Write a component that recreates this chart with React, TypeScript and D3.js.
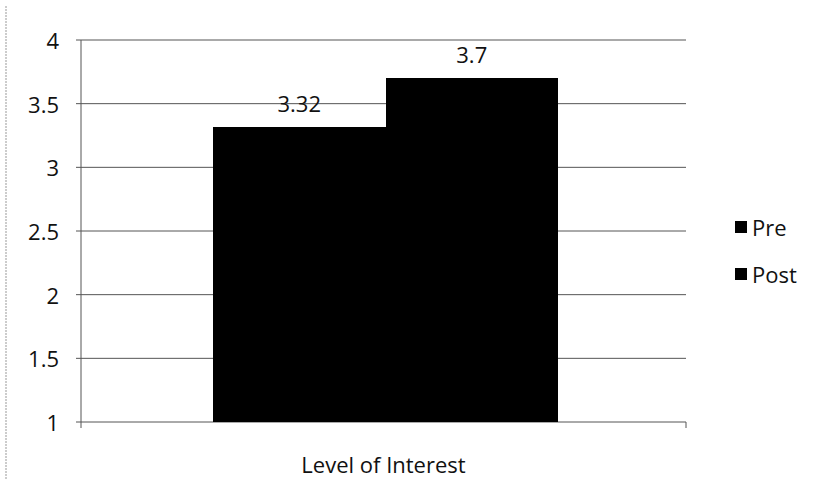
import React from "react";
import * as d3 from "d3";

const categories = ["Level of Interest"];
const seriesNames = ["Pre", "Post"];
const preValues = [3.32];
const postValues = [3.7];
const yTicks = [1, 1.5, 2, 2.5, 3, 3.5, 4];
const valueLabels = ["3.32", "3.7"];

export default function App() {
  const W = 814, H = 486;
  const left = 81, right = 686, top = 40, bottom = 422;
  const y = d3.scaleLinear().domain([1, 4]).range([bottom, top]);
  const x0 = d3.scaleBand().domain(categories).range([left, right]).paddingInner(0).paddingOuter(0);
  const x1 = d3.scaleBand().domain(seriesNames)
    .range([132, x0.bandwidth() - 128]).padding(0);
  const font = "'Open Sans', 'DejaVu Sans', sans-serif";
  const rows = categories.map((c, i) => ({ c, vals: [preValues[i], postValues[i]] }));
  return (
    <svg width={W} height={H} style={{ position: "absolute", left: 0, top: 0, background: "#fff" }}>
      <line x1={6} x2={6} y1={6} y2={480} stroke="#999" strokeWidth={1} strokeDasharray="2,1" />
      {yTicks.map((t) => (
        <g key={t}>
          <line x1={left - 5} x2={right} y1={y(t)} y2={y(t)} stroke="#555" strokeWidth={1} />
          <text x={59} y={y(t)} textAnchor="end" dominantBaseline="central" fontFamily={font} fontSize={22} fill="#111">{t}</text>
        </g>
      ))}
      <line x1={left} x2={left} y1={top} y2={bottom} stroke="#555" strokeWidth={1} />
      <line x1={left} x2={left} y1={bottom} y2={bottom + 6} stroke="#555" />
      <line x1={right} x2={right} y1={bottom} y2={bottom + 6} stroke="#555" />
      {rows.map((r) => (
        <g key={r.c} transform={`translate(${x0(r.c)},0)`}>
          {r.vals.map((v, j) => (
            <g key={j}>
              <rect x={x1(seriesNames[j])} y={y(v)} width={x1.bandwidth() + (j === 0 ? 1 : 0)} height={y(1) - y(v)} fill="#000" shapeRendering="crispEdges" />
              <text x={(x1(seriesNames[j]) as number) + x1.bandwidth() / 2} y={y(v) - 24}
                textAnchor="middle" dominantBaseline="central" fontFamily={font} fontSize={22} fill="#111">{valueLabels[j]}</text>
            </g>
          ))}
          <text x={x0.bandwidth() / 2} y={464} textAnchor="middle" dominantBaseline="central" fontFamily={font} fontSize={22} fill="#111">{r.c}</text>
        </g>
      ))}
      {seriesNames.map((s, i) => (
        <g key={s} transform={`translate(735, ${227 + i * 47})`}>
          <rect x={0} y={-6} width={12} height={12} fill="#000" />
          <text x={17} y={0} dominantBaseline="central" fontFamily={font} fontSize={22} fill="#111">{s}</text>
        </g>
      ))}
    </svg>
  );
}
